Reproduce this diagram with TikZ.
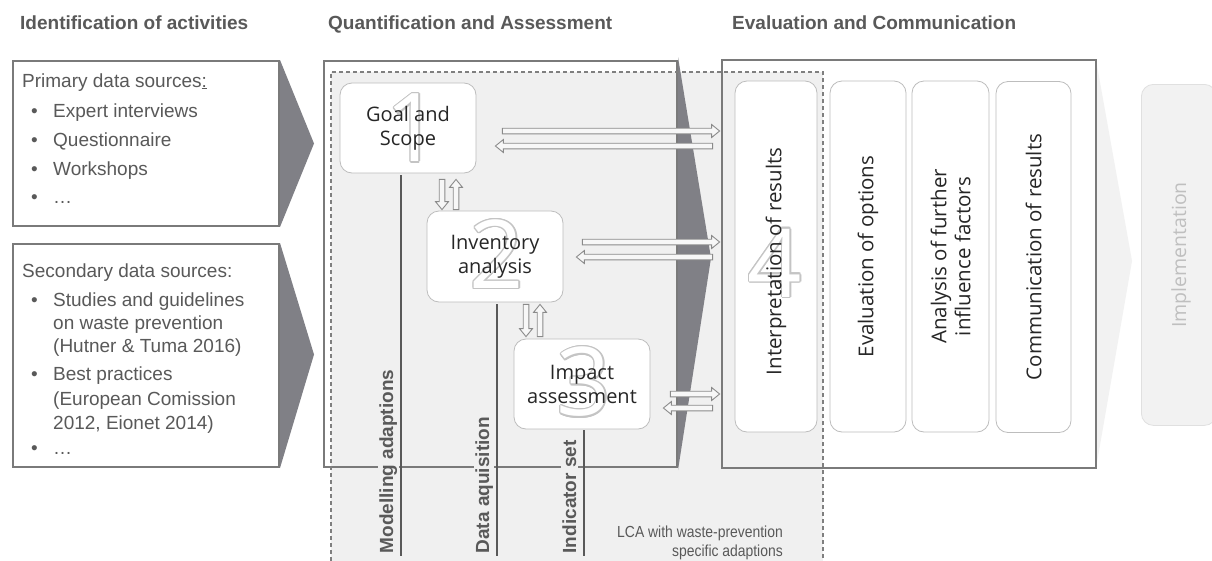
\documentclass[tikz,border=0pt]{standalone}
\usepackage{fontspec}
\setmainfont{Liberation Sans}
\newfontfamily\osans{Open Sans}
\newfontfamily\narrowsans[FakeStretch=0.87]{Liberation Sans}
\usetikzlibrary{calc}
\definecolor{txtgray}{HTML}{595959}
\definecolor{boxgray}{HTML}{7A7A7A}
\definecolor{chevgray}{HTML}{808086}
\definecolor{regiongray}{HTML}{F0F0F0}
\definecolor{innergray}{HTML}{BDBDBD}
\definecolor{arrgray}{HTML}{8A8A8A}
\definecolor{arrfill}{HTML}{F7F7F7}
\definecolor{textdark}{HTML}{262626}
\definecolor{digitgray}{HTML}{C4C4C4}
\definecolor{implfill}{HTML}{F2F2F2}
\definecolor{impldraw}{HTML}{E0E0E0}
\definecolor{impltext}{HTML}{BFBFBF}
\definecolor{ltchev}{HTML}{F2F2F2}
\definecolor{vlinegray}{HTML}{595959}
\definecolor{dashgray}{HTML}{7F7F7F}
\tikzset{
 hdr/.style={font=\fontsize{19}{22}\selectfont\bfseries, text=txtgray, anchor=base west, inner sep=0pt},
 body/.style={font=\fontsize{19}{22}\selectfont, text=txtgray, anchor=base west, inner sep=0pt},
 srcbox/.style={draw=boxgray, line width=2pt, anchor=north west, inner sep=0pt},
 stagebox/.style={draw=boxgray, line width=2pt, anchor=north west, inner sep=0pt},
 chevron/.style={fill=chevgray},
 qbox/.style={draw=innergray, fill=white, rounded corners=12pt, line width=0.8pt, minimum width=136pt, minimum height=90pt, inner sep=0pt},
 qtext/.style={font=\osans\fontsize{20}{24}\selectfont, text=textdark, align=center, inner sep=0pt},
 ebox/.style={draw=innergray, fill=white, rounded corners=12pt, line width=0.8pt, minimum height=351pt, inner sep=0pt},
 etext/.style={font=\osans\fontsize{20.5}{24}\selectfont, text=textdark, align=center, inner sep=0pt, rotate=90},
 digit/.style={font=\osans\fontsize{95}{95}\selectfont, inner sep=0pt},
 vline/.style={draw=vlinegray, line width=2pt},
 vlabel/.style={font=\fontsize{19}{22}\selectfont\bfseries, text=txtgray, fill=regiongray, inner sep=1.5pt, rotate=90, anchor=base west},
 dashline/.style={draw=dashgray, line width=1.1pt, dash pattern=on 4pt off 3pt},
 lcatext/.style={font=\narrowsans\fontsize{16}{19}\selectfont, text=txtgray, anchor=base east, inner sep=0pt},
 barrow/.style={draw=arrgray, fill=arrfill, line width=0.9pt, line join=miter,
  to path={
   ($(\tikztostart)!2.8pt!90:(\tikztotarget)$)
   -- ($(\tikztotarget)!8pt!(\tikztostart)!2.8pt!90:(\tikztotarget)$)
   -- ($(\tikztotarget)!8pt!(\tikztostart)!6.5pt!90:(\tikztotarget)$)
   -- (\tikztotarget)
   -- ($(\tikztotarget)!8pt!(\tikztostart)!6.5pt!-90:(\tikztotarget)$)
   -- ($(\tikztotarget)!8pt!(\tikztostart)!2.8pt!-90:(\tikztotarget)$)
   -- ($(\tikztostart)!2.8pt!-90:(\tikztotarget)$)
   -- cycle}},
}
\newcommand\bigdigit[2]{%
 \foreach \a in {0,30,...,330}{\node[digit, text=digitgray] at ($#1+(\a:1.3)$) {#2};}
 \node[digit, text=white] at #1 {#2};}
\begin{document}
\begin{tikzpicture}[x=1pt,y=-1pt]
\useasboundingbox[fill=white] (0,0) rectangle (1212,560);

% headers
\node[hdr] (h1) at (20,29) {Identification of activities};
\node[hdr] (h2) at (328,29) {Quantification and Assessment};
\node[hdr] (h3) at (732,29) {Evaluation and Communication};

% LCA region
\fill[regiongray] (331,72) rectangle (823,575);

% implementation
\node[stagebox, draw=none, minimum width=372pt, minimum height=406pt] (ev) at (722,60) {};
\fill[ltchev] (ev.north east) -- ($(ev.east)+(36,-3)$) -- (ev.south east) -- cycle;
\node[draw=impldraw, fill=implfill, rounded corners=12pt, line width=0.8pt, anchor=north west, minimum width=75pt, minimum height=341pt] (im) at (1141,84) {};
\node[font=\osans\fontsize{19.5}{22}\selectfont, text=impltext, rotate=90, inner sep=0pt] (imt) at (1181,255) {Implementation};

% source boxes
\node[srcbox, minimum width=266pt, minimum height=165pt] (prim) at (12,60) {};
\fill[chevron] (prim.north east) -- ($(prim.east)+(34,0)$) -- (prim.south east) -- cycle;
\node[srcbox, minimum width=266pt, minimum height=223pt] (sec) at (12,243) {};
\fill[chevron] (sec.north east) -- ($(sec.east)+(34,-1)$) -- (sec.south east) -- cycle;

\node[body] (pt) at (22,87) {Primary data sources\underline{:}};
\node[body] (pb1) at (31,117) {•}; \node[body] (p1) at (53,117) {Expert interviews};
\node[body] (pb2) at (31,146) {•}; \node[body] (p2) at (53,146) {Questionnaire};
\node[body] (pb3) at (31,175) {•}; \node[body] (p3) at (53,175) {Workshops};
\node[body] (pb4) at (31,203) {•}; \node[body] (p4) at (53,203) {…};

\node[body] (st) at (22,277) {Secondary data sources:};
\node[body] (sb1) at (31,306) {•}; \node[body] (s1a) at (53,306) {Studies and guidelines};
\node[body] (s1b) at (53,329) {on waste prevention};
\node[body] (s1c) at (53,352) {(Hutner \& Tuma 2016)};
\node[body] (sb2) at (31,380) {•}; \node[body] (s2a) at (53,380) {Best practices};
\node[body] (s2b) at (53,405) {(European Comission};
\node[body] (s2c) at (53,429) {2012, Eionet 2014)};
\node[body] (sb3) at (31,454) {•}; \node[body] (s3) at (53,454) {…};

% stage boxes
\node[stagebox, minimum width=353pt, minimum height=406pt] (qa) at (323,60) {};
\draw[boxgray, line width=2pt] (ev.north west) rectangle (ev.south east);
\fill[chevron] ($(qa.north east)+(0,-3)$) -- ($(qa.east)+(33,-6)$) -- ($(qa.south east)+(0,2)$) -- cycle;

% dashed outline of LCA region
\draw[dashline] (331,575) -- (331,72) -- (823,72) -- (823,575);

% LCA phase boxes
\node[qbox] (g) at (408,128) {};
\bigdigit{(413,128)}{1}
\node[qtext] (gt) at (g) {Goal and\\Scope};
\node[qbox, minimum height=91pt] (i) at (495,256.5) {};
\bigdigit{(497,254)}{2}
\node[qtext] (it) at (i) {Inventory\\analysis};
\node[qbox] (m) at (582,384) {};
\bigdigit{(584,382)}{3}
\node[qtext] (mt) at (m) {Impact\\assessment};

% evaluation boxes
\node[ebox, minimum width=82pt] (e1) at (776,256.5) {};
\bigdigit{(775,263)}{4}
\node[etext] (e1t) at ($(e1)+(0,5)$) {Interpretation of results};
\node[ebox, minimum width=76pt] (e2) at (868,256.5) {};
\node[etext] (e2t) at (e2) {Evaluation of options};
\node[ebox, minimum width=77pt] (e3) at (950.5,256.5) {};
\node[etext] (e3t) at (e3) {Analysis of further\\influence factors};
\node[ebox, minimum width=75pt] (e4) at (1033.5,257) {};
\node[etext] (e4t) at (e4) {Communication of results};

% vertical lines and labels
\coordinate (mB) at (401,556);
\coordinate (dB) at (497,556);
\coordinate (iB) at (584,556);
\node[vlabel] (ml) at (393,555) {Modelling adaptions};
\node[vlabel] (dl) at (489,555) {Data aquisition};
\node[vlabel] (il) at (576,555) {Indicator set};
\draw[vline] ($(g.south -| mB)+(0,2)$) -- (mB);
\draw[vline] ($(i.south -| dB)+(0,2)$) -- (dB);
\draw[vline] ($(m.south -| iB)+(0,1)$) -- (iB);

\node[lcatext] (lca1) at (783,537) {LCA with waste-prevention};
\node[lcatext] (lca2) at (783,556) {specific adaptions};

% arrows
\coordinate (a1s) at ($(g.east)+(26,3)$);
\coordinate (a1e) at ($(a1s -| e1.west)+(-15,0)$);
\coordinate (a2s) at ($(g.east -| e1.west)+(-22,18)$);
\coordinate (a2e) at ($(g.east)+(19,18)$);
\coordinate (b1s) at ($(i.east)+(19,-14.5)$);
\coordinate (b1e) at ($(b1s -| e1.west)+(-15,0)$);
\coordinate (b2s) at ($(i.east -| e1.west)+(-22,0.5)$);
\coordinate (b2e) at ($(i.east)+(13,0.5)$);
\coordinate (c1s) at ($(m.east)+(20,10)$);
\coordinate (c1e) at ($(c1s -| e1.west)+(-15,0)$);
\coordinate (c2s) at ($(m.east -| e1.west)+(-22,24)$);
\coordinate (c2e) at ($(m.east)+(13,24)$);
\draw[barrow] (a1s) to (a1e);
\draw[barrow] (a2s) to (a2e);
\draw[barrow] (b1s) to (b1e);
\draw[barrow] (b2s) to (b2e);
\draw[barrow] (c1s) to (c1e);
\draw[barrow] (c2s) to (c2e);

\coordinate (d1s) at ($(g.south)+(34,6)$);
\coordinate (d1e) at ($(d1s |- i.north)+(0,-1)$);
\coordinate (u1s) at ($(d1e)+(14,0)$);
\coordinate (u1e) at ($(d1s)+(14,0)$);
\coordinate (d2s) at ($(i.south)+(31,2)$);
\coordinate (d2e) at ($(d2s |- m.north)+(0,-2)$);
\coordinate (u2s) at ($(d2e)+(14,0)$);
\coordinate (u2e) at ($(d2s)+(14,0)$);
\draw[barrow] (d1s) to (d1e);
\draw[barrow] (u1s) to (u1e);
\draw[barrow] (d2s) to (d2e);
\draw[barrow] (u2s) to (u2e);
\end{tikzpicture}
\end{document}
